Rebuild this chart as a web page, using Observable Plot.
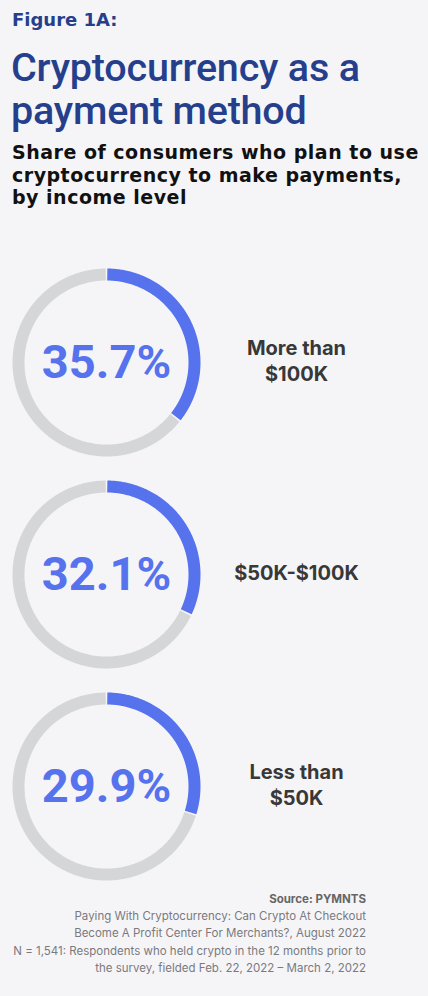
<!DOCTYPE html>
<html>
<head>
<meta charset="utf-8">
<script src="https://cdn.jsdelivr.net/npm/d3@7"></script>
<script src="https://cdn.jsdelivr.net/npm/@observablehq/plot@0.6"></script>
<style>
  html, body { margin: 0; padding: 0; background: #f5f5f8; }
  body { width: 428px; height: 996px; overflow: hidden; font-family: Inter, "Noto Sans", sans-serif; }
  #fig { position: absolute; left: 12px; top: 9px; font-family: "DejaVu Sans", sans-serif; font-size: 18px; font-weight: 700; color: #263f8c; line-height: 22px; }
  #title { position: absolute; left: 11px; top: 46px; font-family: Roboto, Inter, sans-serif; font-size: 39.5px; font-weight: 500; color: #263f8c; line-height: 43px; letter-spacing: -0.2px; }
  #sub { position: absolute; left: 12px; top: 141px; font-family: "DejaVu Sans", sans-serif; font-size: 19px; font-weight: 700; color: #111; line-height: 22.5px; letter-spacing: 0.5px; }
  #chart { position: absolute; left: 0; top: 256px; }
  #foot { position: absolute; right: 62px; top: 891px; text-align: right; font-size: 11.5px; color: #7a7a7e; line-height: 17.2px; }
  #foot b { color: #666; font-weight: 700; }
</style>
</head>
<body>
<div id="fig">Figure 1A:</div>
<div id="title">Cryptocurrency as a<br>payment method</div>
<div id="sub">Share of consumers who plan to use<br>cryptocurrency to make payments,<br>by income level</div>
<div id="chart"></div>
<div id="foot"><b>Source: PYMNTS</b><br>Paying With Cryptocurrency: Can Crypto At Checkout<br>Become A Profit Center For Merchants?, August 2022<br>N = 1,541: Respondents who held crypto in the 12 months prior to<br>the survey, fielded Feb. 22, 2022 – March 2, 2022</div>
<script>
const incomes = ["More than $100K", "$50K-$100K", "Less than $50K"];
const incomeLabels = ["More than\n$100K", "$50K-$100K", "Less than\n$50K"];
const shares = [35.7, 32.1, 29.9];

const blue = "#5672ed";
const grey = "#d5d6d8";
const halfGap = 0.009;
const steps = 180;

// Build arc sample points from the share values (angle measured clockwise from top)
function arcPoints(income, a0, a1, seg) {
  const pts = [];
  for (let k = 0; k <= steps; k++) {
    const a = a0 + (a1 - a0) * k / steps;
    pts.push({income, seg, x: Math.sin(a), y: Math.cos(a)});
  }
  return pts;
}
const bluePts = [], greyPts = [];
incomes.forEach((inc, i) => {
  const end = shares[i] / 100 * 2 * Math.PI;
  bluePts.push(...arcPoints(inc, halfGap, end - halfGap, "share"));
  greyPts.push(...arcPoints(inc, end + halfGap, 2 * Math.PI - halfGap, "rest"));
});
const rows = incomes.map((inc, i) => ({income: inc, label: incomeLabels[i], share: shares[i]}));

const r = 88;
const chart = Plot.plot({
  width: 428,
  height: 636,
  margin: 0,
  style: {background: "transparent", overflow: "visible"},
  x: {domain: [-106 / r, (428 - 106) / r], range: [0, 428], axis: null},
  y: {domain: [-106 / r, 106 / r], axis: null},
  fy: {domain: incomes, padding: 0, axis: null},
  marks: [
    Plot.line(greyPts, {x: "x", y: "y", fy: "income", z: "income", stroke: grey, strokeWidth: 12, strokeLinecap: "butt", curve: "linear"}),
    Plot.line(bluePts, {x: "x", y: "y", fy: "income", z: "income", stroke: blue, strokeWidth: 12, strokeLinecap: "butt", curve: "linear"}),
    Plot.text(rows, {x: () => 0, y: () => 0, fy: "income", text: d => d.share.toFixed(1) + "%", fill: blue, fontSize: 47, fontWeight: 700, fontFamily: "Roboto", letterSpacing: "-0.5px", textAnchor: "middle", dy: 0}),
    Plot.text(rows, {x: () => 190 / r, y: () => 0, fy: "income", text: "label", fill: "#383838", fontSize: 20, fontWeight: 700, fontFamily: "Inter", lineHeight: 1.3, textAnchor: "middle", dy: -3})
  ]
});
document.getElementById("chart").appendChild(chart);
</script>
</body>
</html>
